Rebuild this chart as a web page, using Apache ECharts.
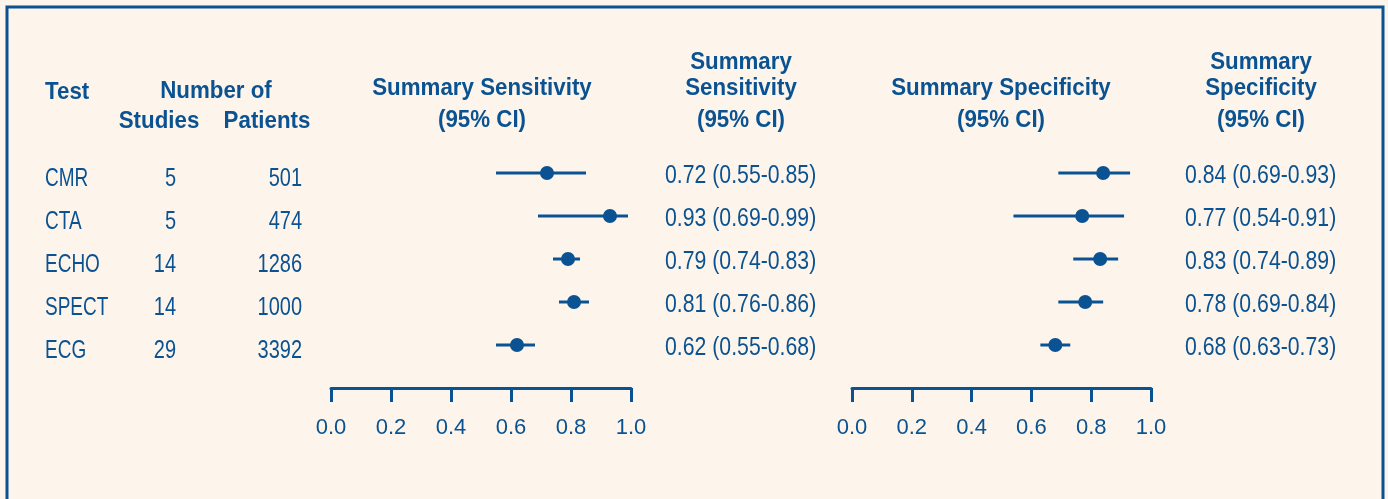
<!DOCTYPE html>
<html>
<head>
<meta charset="utf-8">
<script src="https://cdn.jsdelivr.net/npm/echarts@6/dist/echarts.min.js"></script>
<style>
  html, body { margin: 0; padding: 0; background: #fdf5eb; }
  #chart { width: 1388px; height: 499px; }
</style>
</head>
<body>
<div id="chart"></div>
<script>
// data
var tests = ['CMR', 'CTA', 'ECHO', 'SPECT', 'ECG'];
var studies = [5, 5, 14, 14, 29];
var patients = [501, 474, 1286, 1000, 3392];
var sens = [0.72, 0.93, 0.79, 0.81, 0.62];
var sensLo = [0.55, 0.69, 0.74, 0.76, 0.55];
var sensHi = [0.85, 0.99, 0.83, 0.86, 0.68];
var spec = [0.84, 0.77, 0.83, 0.78, 0.68];
var specLo = [0.69, 0.54, 0.74, 0.69, 0.63];
var specHi = [0.93, 0.91, 0.89, 0.84, 0.73];
var ticks = [0, 0.2, 0.4, 0.6, 0.8, 1.0];

var blue = '#0a5291';
var sans = "'Liberation Sans', Arial, sans-serif";

var chart = echarts.init(document.getElementById('chart'));

var fmt = (v, lo, hi) => v.toFixed(2) + ' (' + lo.toFixed(2) + '-' + hi.toFixed(2) + ')';

// text column in the table grid: x is a pixel position, y is the row.
// the original uses a narrow face, so the glyphs are squeezed with scaleX
var textColumn = (x, texts, align, sx, dy) => ({
  type: 'custom',
  xAxisIndex: 2, yAxisIndex: 2,
  silent: true,
  data: texts.map((t, i) => [x, i]),
  renderItem: (params, api) => {
    var p = api.coord([api.value(0), api.value(1)]);
    return {
      type: 'text',
      x: p[0], y: p[1] + dy,
      scaleX: sx,
      style: {
        text: String(texts[params.dataIndex]),
        x: 0, y: 0,
        align: align,
        verticalAlign: 'middle',
        fill: blue,
        font: '25px ' + sans
      }
    };
  }
});

var ciSeries = (idx, lo, hi) => ({
  type: 'custom',
  xAxisIndex: idx, yAxisIndex: idx,
  silent: true,
  data: lo.map((l, i) => [l, hi[i], i]),
  encode: { x: [0, 1], y: 2 },
  renderItem: (params, api) => {
    var a = api.coord([api.value(0), api.value(2)]);
    var b = api.coord([api.value(1), api.value(2)]);
    return {
      type: 'line',
      shape: { x1: a[0], y1: a[1], x2: b[0], y2: b[1] },
      style: { stroke: blue, lineWidth: 3 }
    };
  }
});

var pointSeries = (idx, vals) => ({
  type: 'scatter',
  xAxisIndex: idx, yAxisIndex: idx,
  silent: true,
  symbol: 'circle',
  symbolSize: 14,
  itemStyle: { color: blue, opacity: 1 },
  data: vals.map((v, i) => [v, i])
});

var plotAxis = (idx) => ({
  type: 'value',
  gridIndex: idx,
  min: 0, max: 1, interval: 0.2,
  axisLine: { show: true, onZero: false, lineStyle: { color: blue, width: 3 } },
  axisTick: { show: true, length: 14, lineStyle: { color: blue, width: 3 } },
  splitLine: { show: false },
  axisLabel: {
    margin: 29,
    color: blue,
    fontFamily: sans,
    fontSize: 22,
    formatter: v => ticks.some(t => Math.abs(t - v) < 1e-9) ? v.toFixed(1) : ''
  }
});

var rowAxis = (idx) => ({
  type: 'value',
  gridIndex: idx,
  min: -1, max: 5,
  inverse: true,
  show: false
});

var head = (text, x, y, align) => ({
  type: 'text',
  silent: true,
  x: x, y: y,
  scaleX: 0.93,
  style: {
    text: text, x: 0, y: 0,
    align: align || 'center',
    verticalAlign: 'middle',
    fill: blue,
    font: 'bold 24px ' + sans
  }
});

var option = {
  backgroundColor: '#fdf5eb',
  animation: false,
  grid: [
    { left: 331, width: 300, top: 130, height: 258 },
    { left: 852, width: 299, top: 130, height: 258 },
    { left: 0, width: 1388, top: 130, height: 258 }
  ],
  xAxis: [
    plotAxis(0),
    plotAxis(1),
    { type: 'value', gridIndex: 2, min: 0, max: 1388, show: false }
  ],
  yAxis: [rowAxis(0), rowAxis(1), rowAxis(2)],
  graphic: [
    {
      type: 'rect',
      silent: true,
      shape: { x: 7, y: 7, width: 1376, height: 520 },
      style: { fill: 'none', stroke: blue, lineWidth: 3 }
    },
    head('Test', 45, 92, 'left'),
    head('Number of', 216, 91),
    head('Studies', 159, 121),
    head('Patients', 267, 121),
    head('Summary Sensitivity', 482, 88),
    head('(95% CI)', 482, 120),
    head('Summary', 741, 62),
    head('Sensitivity', 741, 88),
    head('(95% CI)', 741, 120),
    head('Summary Specificity', 1001, 88),
    head('(95% CI)', 1001, 120),
    head('Summary', 1261, 62),
    head('Specificity', 1261, 88),
    head('(95% CI)', 1261, 120)
  ],
  series: [
    ciSeries(0, sensLo, sensHi),
    pointSeries(0, sens),
    ciSeries(1, specLo, specHi),
    pointSeries(1, spec),
    textColumn(45, tests, 'left', 0.76, 6),
    textColumn(176, studies, 'right', 0.8, 6),
    textColumn(302, patients, 'right', 0.8, 6),
    textColumn(665, sens.map((v, i) => fmt(v, sensLo[i], sensHi[i])), 'left', 0.85, 3),
    textColumn(1185, spec.map((v, i) => fmt(v, specLo[i], specHi[i])), 'left', 0.85, 3)
  ]
};
chart.setOption(option);
</script>
</body>
</html>
